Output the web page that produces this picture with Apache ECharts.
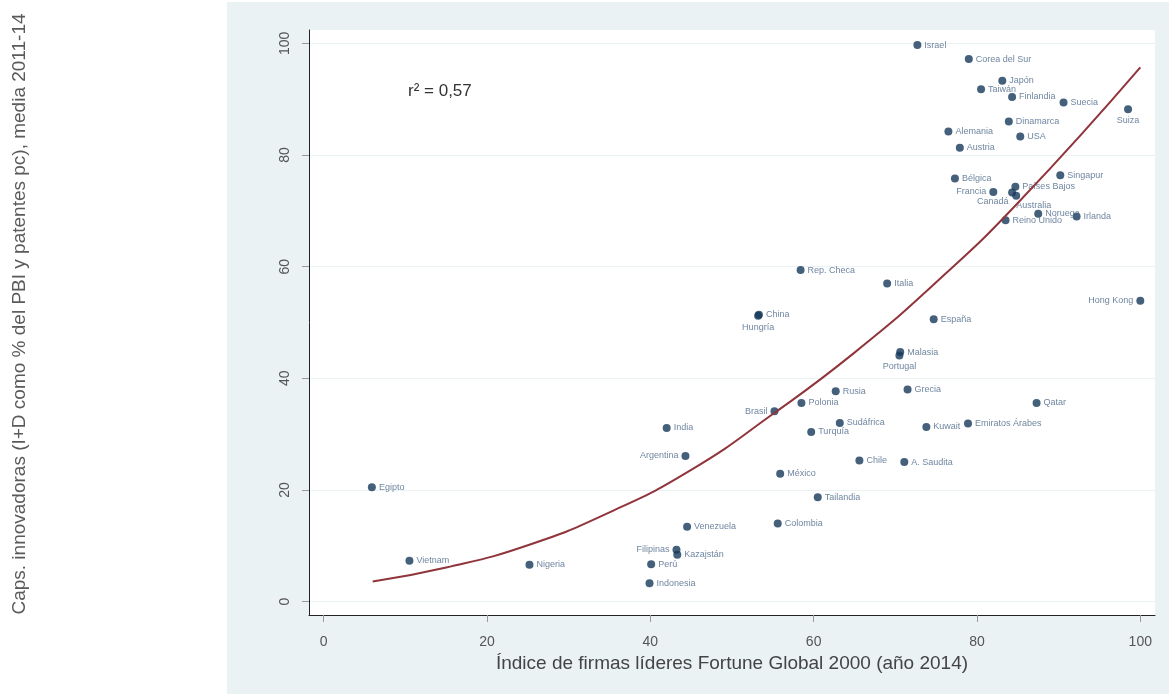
<!DOCTYPE html>
<html lang="es">
<head>
<meta charset="UTF-8">
<title>Capacidades innovadoras vs firmas líderes</title>
<script src="https://cdn.jsdelivr.net/npm/echarts@6/dist/echarts.min.js"></script>
<style>
  html, body { margin: 0; padding: 0; background: #fff; }
  #main { width: 1169px; height: 694px; }
</style>
</head>
<body>
<div id="main"></div>
<script>
// paises y valores
var paises = ['Israel', 'Corea del Sur', 'Japón', 'Taiwán', 'Finlandia', 'Suecia', 'Suiza', 'Dinamarca',
  'Alemania', 'USA', 'Austria', 'Singapur', 'Bélgica', 'Francia', 'Países Bajos', 'Canadá', 'Australia',
  'Noruega', 'Irlanda', 'Reino Unido', 'Rep. Checa', 'Italia', 'China', 'Hungría', 'Hong Kong', 'España',
  'Malasia', 'Portugal', 'Rusia', 'Grecia', 'Polonia', 'Qatar', 'Brasil', 'Sudáfrica', 'Kuwait',
  'Emiratos Árabes', 'Turquía', 'India', 'Argentina', 'Chile', 'A. Saudita', 'México', 'Tailandia',
  'Venezuela', 'Colombia', 'Filipinas', 'Kazajstán', 'Perú', 'Indonesia', 'Egipto', 'Vietnam', 'Nigeria'];

// indice de firmas lideres Fortune Global 2000 (eje x)
var indiceFirmas = [72.7, 79.0, 83.1, 80.5, 84.3, 90.6, 98.5, 83.9,
  76.5, 85.3, 77.9, 90.2, 77.3, 82.0, 84.7, 84.3, 84.8,
  87.5, 92.2, 83.5, 58.4, 69.0, 53.3, 53.2, 100, 74.7,
  70.6, 70.5, 62.7, 71.5, 58.5, 87.3, 55.2, 63.2, 73.8,
  78.9, 59.7, 42.0, 44.3, 65.6, 71.1, 55.9, 60.5,
  44.5, 55.6, 43.2, 43.3, 40.1, 39.9, 5.9, 10.5, 25.2];

// capacidades innovadoras (eje y)
var capsInnov = [99.7, 97.2, 93.3, 91.8, 90.4, 89.4, 88.2, 86.0,
  84.2, 83.3, 81.3, 76.4, 75.8, 73.4, 74.3, 73.3, 72.7,
  69.5, 69.0, 68.3, 59.4, 57.0, 51.4, 51.2, 53.9, 50.6,
  44.7, 44.1, 37.7, 38.0, 35.6, 35.6, 34.1, 32.0, 31.3,
  31.9, 30.4, 31.1, 26.1, 25.3, 25.0, 22.9, 18.7,
  13.4, 14.0, 9.3, 8.4, 6.7, 3.3, 20.5, 7.3, 6.6];

// curva de ajuste
var ajusteX = [6, 15, 25, 35, 45, 55, 65, 75, 85, 100];
var ajusteY = [3.6, 6.1, 10.1, 16.0, 23.6, 33.6, 44.6, 57.2, 71.4, 95.7];

var ticksX = [0, 20, 40, 60, 80, 100];
var ticksY = [0, 20, 40, 60, 80, 100];

// ubicacion de las etiquetas (por defecto a la derecha)
var posEtiqueta = {
  'Brasil': 'left', 'Argentina': 'left', 'Hong Kong': 'left', 'Francia': 'left', 'Filipinas': 'left',
  'Suiza': 'bottom', 'Hungría': 'bottom', 'Portugal': 'bottom',
  'Canadá': [-31, 9], 'Australia': [4, 9]
};

var puntos = [];
for (var i = 0; i < paises.length; i++) {
  puntos.push({
    name: paises[i],
    value: [indiceFirmas[i], capsInnov[i]],
    label: { position: posEtiqueta[paises[i]] || 'right' }
  });
}

var curva = [];
for (var j = 0; j < ajusteX.length; j++) {
  curva.push([ajusteX[j], ajusteY[j]]);
}

var fuente = '"Liberation Sans", Arial, sans-serif';

var myChart = echarts.init(document.getElementById('main'));
var option = {
  animation: false,
  textStyle: { fontFamily: fuente },
  graphic: [
    {
      type: 'rect', z: -10,
      shape: { x: 227, y: 2, width: 942, height: 692 },
      style: { fill: '#eaf2f3' }
    },
    {
      type: 'text', left: 408, top: 83,
      style: { text: 'r² = 0,57', fontSize: 17, fill: '#333', fontFamily: fuente }
    },
    {
      type: 'text', x: 20, y: 314, rotation: Math.PI / 2,
      style: {
        text: 'Caps. innovadoras (I+D como % del PBI y patentes pc), media 2011-14',
        fontSize: 19, fill: '#5a5a5a', fontFamily: fuente,
        textAlign: 'center', textVerticalAlign: 'middle'
      }
    }
  ],
  grid: {
    left: 309, right: 14, top: 30, bottom: 79,
    show: true, backgroundColor: '#ffffff', borderWidth: 0
  },
  xAxis: {
    type: 'value', min: -1.8, max: 101.8,
    name: 'Índice de firmas líderes Fortune Global 2000 (año 2014)',
    nameLocation: 'middle', nameGap: 37,
    nameTextStyle: { fontSize: 19, color: '#444', fontFamily: fuente },
    axisLine: { show: true, onZero: false, lineStyle: { color: '#222', width: 1 } },
    axisTick: { show: true, customValues: ticksX, length: 7, lineStyle: { color: '#999' } },
    axisLabel: { customValues: ticksX, margin: 20, fontSize: 14, color: '#555' },
    splitLine: { show: false }
  },
  yAxis: {
    type: 'value', min: -2.4, max: 102.4,
    axisLine: { show: true, onZero: false, lineStyle: { color: '#222', width: 1 } },
    axisTick: { show: true, customValues: ticksY, length: 7, lineStyle: { color: '#999' } },
    axisLabel: { customValues: ticksY, rotate: 90, margin: 17, fontSize: 14, color: '#555' },
    splitLine: { show: true, lineStyle: { color: '#eaf2f3', width: 1 } }
  },
  series: [
    {
      type: 'scatter',
      data: puntos,
      symbolSize: 8,
      itemStyle: { color: '#15385a' },
      label: {
        show: true, formatter: '{b}', fontSize: 9, color: '#4a6787', distance: 3
      },
      z: 2
    },
    {
      type: 'line',
      data: curva,
      smooth: true,
      symbol: 'none',
      lineStyle: { color: '#90353b', width: 2 },
      z: 3
    }
  ]
};
myChart.setOption(option);
</script>
</body>
</html>
